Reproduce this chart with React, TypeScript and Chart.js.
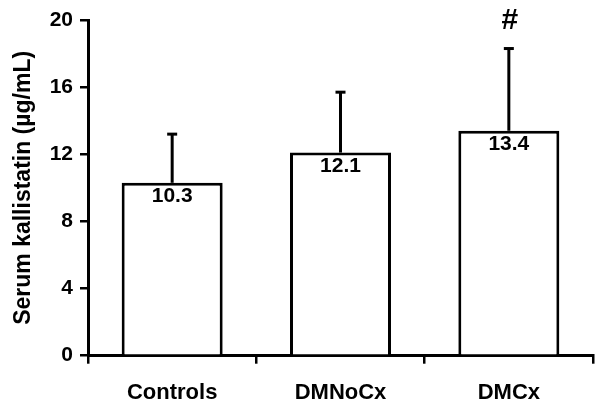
import React, { useEffect, useRef } from "react";
import { Chart, registerables } from "chart.js";

Chart.register(...registerables);

const categories = ["Controls", "DMNoCx", "DMCx"];
const means = [10.3, 12.1, 13.4];
const sds = [2.9, 3.6, 4.9];
const markers = ["", "", "#"];
const yMin = 0;
const yMax = 20;
const yStep = 4;
const yTitle = "Serum kallistatin (µg/mL)";

const FONT = "'Liberation Sans', Arial, Helvetica, sans-serif";

const errorBarPlugin = {
  id: "errorBars",
  afterDatasetsDraw(chart: any) {
    const ctx = chart.ctx;
    const meta = chart.getDatasetMeta(0);
    const yScale = chart.scales.y;
    ctx.save();
    ctx.strokeStyle = "#000";
    ctx.fillStyle = "#000";
    ctx.lineWidth = 3;
    meta.data.forEach((bar: any, i: number) => {
      const x = bar.x;
      const yTop = yScale.getPixelForValue(means[i]);
      const yErr = yScale.getPixelForValue(means[i] + sds[i]);
      ctx.beginPath();
      ctx.moveTo(x, yTop);
      ctx.lineTo(x, yErr);
      ctx.stroke();
      ctx.beginPath();
      ctx.moveTo(x - 5, yErr);
      ctx.lineTo(x + 5, yErr);
      ctx.stroke();
      // value label
      ctx.font = `bold 21px ${FONT}`;
      ctx.textAlign = "center";
      ctx.textBaseline = "top";
      ctx.fillText(means[i].toFixed(1), x, yTop + 3);
      if (markers[i]) {
        ctx.font = `bold 30px ${FONT}`;
        ctx.textBaseline = "bottom";
        ctx.fillText(markers[i], x + 1, yErr - 13);
      }
    });
    ctx.restore();
  },
};

export default function App() {
  const ref = useRef<HTMLCanvasElement>(null);
  useEffect(() => {
    document.body.style.margin = "0";
    const chart = new Chart(ref.current as HTMLCanvasElement, {
      type: "bar",
      data: {
        labels: categories,
        datasets: [
          {
            data: means,
            backgroundColor: "#ffffff",
            borderColor: "#000000",
            borderWidth: 3,
            borderSkipped: "bottom",
            categoryPercentage: 1,
            barPercentage: 0.6,
          },
        ],
      },
      options: {
        responsive: false,
        animation: false,
        layout: { padding: { left: 0, right: 7, top: 20, bottom: 0 } },
        plugins: {
          legend: { display: false },
          tooltip: { enabled: false },
        },
        scales: {
          x: {
            offset: true,
            grid: {
              offset: true,
              drawOnChartArea: false,
              drawTicks: true,
              tickLength: 8,
              tickColor: "#000",
              lineWidth: 2.5,
              color: "#000",
            },
            border: { display: true, color: "#000", width: 3 },
            ticks: {
              color: "#000",
              padding: 16,
              font: { family: FONT, size: 22, weight: "bold" },
            },
            afterFit(scale: any) {
              scale.height = 53.3;
            },
          },
          y: {
            min: yMin,
            max: yMax,
            grid: {
              drawOnChartArea: false,
              drawTicks: true,
              tickLength: 8,
              tickColor: "#000",
              lineWidth: 2.5,
              color: "#000",
            },
            border: { display: true, color: "#000", width: 3 },
            ticks: {
              stepSize: yStep,
              color: "#000",
              padding: 7,
              font: { family: FONT, size: 21, weight: "bold" },
            },
            title: {
              display: true,
              text: yTitle,
              color: "#000",
              padding: { top: 10, bottom: 0 },
              font: { family: FONT, size: 23, weight: "bold" },
            },
            afterFit(scale: any) {
              scale.width = 88;
            },
          },
        },
      },
      plugins: [errorBarPlugin],
    } as any);
    return () => chart.destroy();
  }, []);
  return (
    <div style={{ width: 600, height: 409, position: "relative" }}>
      <canvas ref={ref} width={600} height={409} />
    </div>
  );
}
